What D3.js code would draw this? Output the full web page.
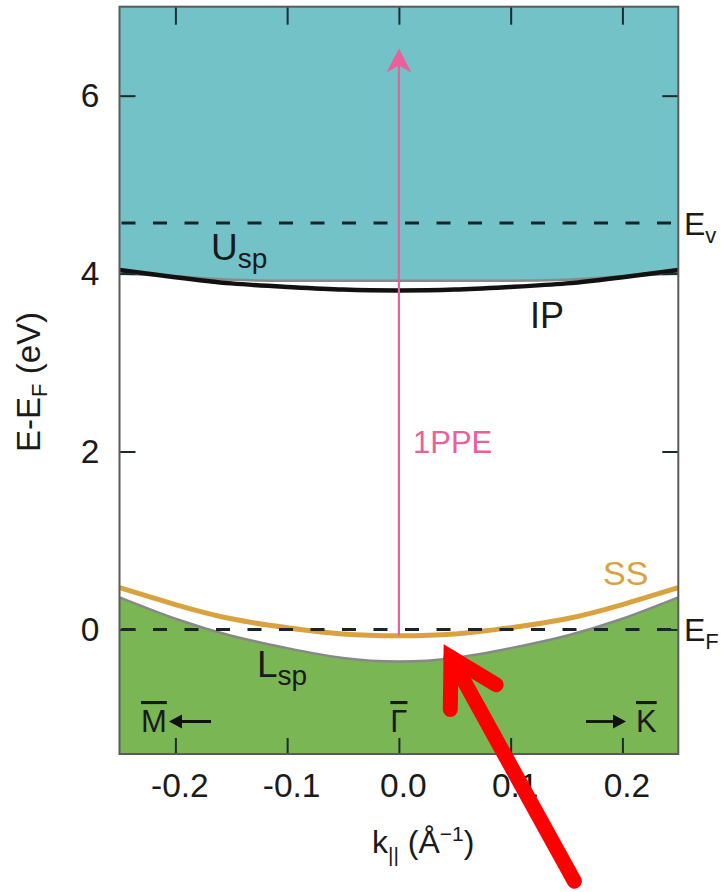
<!DOCTYPE html>
<html lang="en">
<head>
    <meta charset="UTF-8">
    <title>Band structure</title>
    <script src="https://cdnjs.cloudflare.com/ajax/libs/d3/7.8.5/d3.min.js"></script>
    <style>
        body {
            margin: 0;
            background-color: #fff;
        }

        svg {
            display: block;
            font-family: "Liberation Sans", Arial, sans-serif;
        }
    </style>
</head>
<body>
<svg width="721" height="892"></svg>

<script>
    // k grid (1/Å) and the band energies (eV)
    const kGrid = [-0.25, -0.2, -0.15, -0.1, -0.05, 0, 0.05, 0.1, 0.15, 0.2, 0.25];
    const uspEdge = [4.00, 3.97, 3.93, 3.92, 3.92, 3.92, 3.92, 3.92, 3.93, 3.97, 4.00];
    const ipBand = [4.04, 3.96, 3.89, 3.85, 3.82, 3.81, 3.82, 3.85, 3.89, 3.96, 4.04];
    const ssBand = [0.47, 0.28, 0.12, 0.02, -0.05, -0.07, -0.05, 0.02, 0.12, 0.28, 0.47];
    const lspEdge = [0.36, 0.12, -0.07, -0.21, -0.32, -0.36, -0.32, -0.21, -0.07, 0.12, 0.36];

    const xTicks = [-0.2, -0.1, 0.0, 0.1, 0.2];
    const yTicks = [0, 2, 4, 6];

    const vacuumLevel = 4.57;
    const fermiLevel = 0;
    const photonTop = 6.53;      // tip of the 1PPE arrow
    const photonStart = -0.07;   // starts at the SS minimum

    // red annotation arrow (k, E)
    const redHead = [[0.046, -0.90], [0.0466, -0.315], [0.087, -0.62]];
    const redShaft = [[0.0466, -0.315], [0.157, -2.83]];

    const svg = d3.select("svg");
    const margin = {left: 119.5, right: 721 - 678.3, top: 6.7, bottom: 892 - 754};
    const W = 721, H = 892;

    const x = d3.scaleLinear().domain([-0.25, 0.25]).range([margin.left, W - margin.right]);
    const y = d3.scaleLinear().domain([-1.4, 7]).range([H - margin.bottom, margin.top]);

    const pts = arr => kGrid.map((k, i) => [k, arr[i]]);

    const line = d3.line()
        .x(d => x(d[0]))
        .y(d => y(d[1]))
        .curve(d3.curveNatural);
    const flatLine = d3.line()
        .x(d => x(d[0]))
        .y(d => y(d[1]))
        .curve(d3.curveMonotoneX);

    // teal region above U_sp
    svg.append("path")
        .datum(pts(uspEdge))
        .attr("d", d3.area().x(d => x(d[0])).y0(y(7)).y1(d => y(d[1])).curve(d3.curveMonotoneX))
        .attr("fill", "#72c2c8");

    // green region below L_sp
    svg.append("path")
        .datum(pts(lspEdge))
        .attr("d", d3.area().x(d => x(d[0])).y0(y(-1.4)).y1(d => y(d[1])).curve(d3.curveNatural))
        .attr("fill", "#7ab653");

    svg.append("path").datum(pts(uspEdge)).attr("d", flatLine)
        .attr("fill", "none").attr("stroke", "#8a8a8a").attr("stroke-width", 2.5);
    svg.append("path").datum(pts(lspEdge)).attr("d", line)
        .attr("fill", "none").attr("stroke", "#888").attr("stroke-width", 2.5);

    // SS band
    svg.append("path").datum(pts(ssBand)).attr("d", line)
        .attr("fill", "none").attr("stroke", "#d9a23f").attr("stroke-width", 5);

    // dashed levels
    [vacuumLevel, fermiLevel].forEach(e => {
        svg.append("line")
            .attr("x1", x(-0.25) + 2).attr("x2", x(0.25))
            .attr("y1", y(e)).attr("y2", y(e))
            .attr("stroke", "#1a2428").attr("stroke-width", 3)
            .attr("stroke-dasharray", "14,17.5");
    });

    // image potential state
    svg.append("path").datum(pts(ipBand)).attr("d", line)
        .attr("fill", "none").attr("stroke", "#111").attr("stroke-width", 4.5);

    // 1PPE arrow
    const px = x(0), tipY = y(photonTop);
    svg.append("line")
        .attr("x1", px).attr("x2", px)
        .attr("y1", y(photonStart)).attr("y2", tipY + 14)
        .attr("stroke", "#e9609a").attr("stroke-width", 2.2);
    svg.append("path")
        .attr("d", `M${px},${tipY} L${px - 12.5},${tipY + 24} L${px},${tipY + 17} L${px + 12.5},${tipY + 24} Z`)
        .attr("fill", "#e9609a");

    // axes, ticks inward
    const fmt = d => d.toFixed(1);
    const gx = svg.append("g").attr("transform", `translate(0,${y(-1.4)})`)
        .call(d3.axisBottom(x).tickValues(xTicks).tickSize(-16).tickPadding(19).tickFormat(fmt));
    const gxt = svg.append("g").attr("transform", `translate(0,${y(7)})`)
        .call(d3.axisTop(x).tickValues(xTicks).tickSize(-18).tickFormat(""));
    const gy = svg.append("g").attr("transform", `translate(${x(-0.25)},0)`)
        .call(d3.axisLeft(y).tickValues(yTicks).tickSize(-16).tickPadding(20).tickFormat(d3.format("d")));
    const gyr = svg.append("g").attr("transform", `translate(${x(0.25)},0)`)
        .call(d3.axisRight(y).tickValues(yTicks).tickSize(-16).tickFormat(""));

    [gx, gxt, gy, gyr].forEach(g => {
        g.select(".domain").remove();
        g.selectAll(".tick line").attr("stroke", "#1c2a2e").attr("stroke-width", 2);
        g.selectAll("text").attr("font-size", 33.5).attr("fill", "#1a1a1a")
            .attr("font-family", "'Liberation Sans', Arial, sans-serif");
    });
    gx.selectAll("text").attr("dx", 4);

    // frame
    svg.append("rect")
        .attr("x", x(-0.25)).attr("y", y(7))
        .attr("width", x(0.25) - x(-0.25)).attr("height", y(-1.4) - y(7))
        .attr("fill", "none").attr("stroke", "#5a5a5a").attr("stroke-width", 2);

    // text helper with sub/superscripts
    function label(xp, yp, parts, opts = {}) {
        const t = svg.append("text")
            .attr("x", xp).attr("y", yp)
            .attr("font-size", opts.size || 32)
            .attr("fill", opts.color || "#1a1a1a")
            .attr("text-anchor", opts.anchor || "start");
        if (opts.rotate) t.attr("transform", `rotate(${opts.rotate},${xp},${yp})`);
        parts.forEach(p => {
            const s = t.append("tspan").text(p.t);
            if (p.size) s.attr("font-size", p.size);
            if (p.dy) s.attr("dy", p.dy);
            if (p.dx) s.attr("dx", p.dx);
            if (p.deco) s.attr("text-decoration", p.deco);
        });
        return t;
    }

    label(684, y(vacuumLevel) + 12, [{t: "E"}, {t: "v", size: 22, dy: 8}], {size: 32});
    label(684, y(fermiLevel) + 12, [{t: "E"}, {t: "F", size: 22, dy: 8}], {size: 32});
    label(211, 260, [{t: "U", size: 37}, {t: "sp", size: 28, dy: 8}]);
    label(257, 677, [{t: "L", size: 37}, {t: "sp", size: 28, dy: 8}]);
    label(530, 328, [{t: "IP"}], {size: 36});
    label(413, 453, [{t: "1PPE"}], {size: 31, color: "#e9609a"});
    label(603, 585, [{t: "SS"}], {size: 34, color: "#d9a23f"});

    // symmetry points with direction arrows
    label(141, 732, [{t: "M", deco: "overline"}], {size: 31});
    label(x(0), 732, [{t: "Γ", deco: "overline"}], {size: 31, anchor: "middle"});
    label(636, 732, [{t: "K", deco: "overline"}], {size: 31});

    function dirArrow(x1, x2, yy) {
        const dir = Math.sign(x2 - x1);
        svg.append("line")
            .attr("x1", x1).attr("x2", x2 - dir * 8).attr("y1", yy).attr("y2", yy)
            .attr("stroke", "#111").attr("stroke-width", 2.8);
        svg.append("path")
            .attr("d", `M${x2},${yy} L${x2 - dir * 13},${yy - 7} L${x2 - dir * 13},${yy + 7} Z`)
            .attr("fill", "#111");
    }
    dirArrow(211, 169, 721.5);
    dirArrow(586, 626, 721.5);

    // axis titles
    label(372, 853, [{t: "k"}, {t: "||", size: 21, dy: 9}, {t: " (Å", dy: -9}, {t: "−1", size: 21, dy: -12}, {t: ")", dy: 12}], {size: 32});
    label(40, 382, [{t: "E-E"}, {t: "F", size: 22, dy: 7}, {t: " (eV)", dy: -7}], {size: 33, anchor: "middle", rotate: -90});

    // red annotation arrow
    const redLine = d3.line().x(d => x(d[0])).y(d => y(d[1]));
    svg.append("path").datum(redShaft).attr("d", redLine)
        .attr("fill", "none").attr("stroke", "#ff0000").attr("stroke-width", 15)
        .attr("stroke-linecap", "round");
    svg.append("path").datum(redHead).attr("d", redLine)
        .attr("fill", "none").attr("stroke", "#ff0000").attr("stroke-width", 15)
        .attr("stroke-linecap", "round").attr("stroke-linejoin", "miter")
        .attr("stroke-miterlimit", 10);
</script>
</body>
</html>
